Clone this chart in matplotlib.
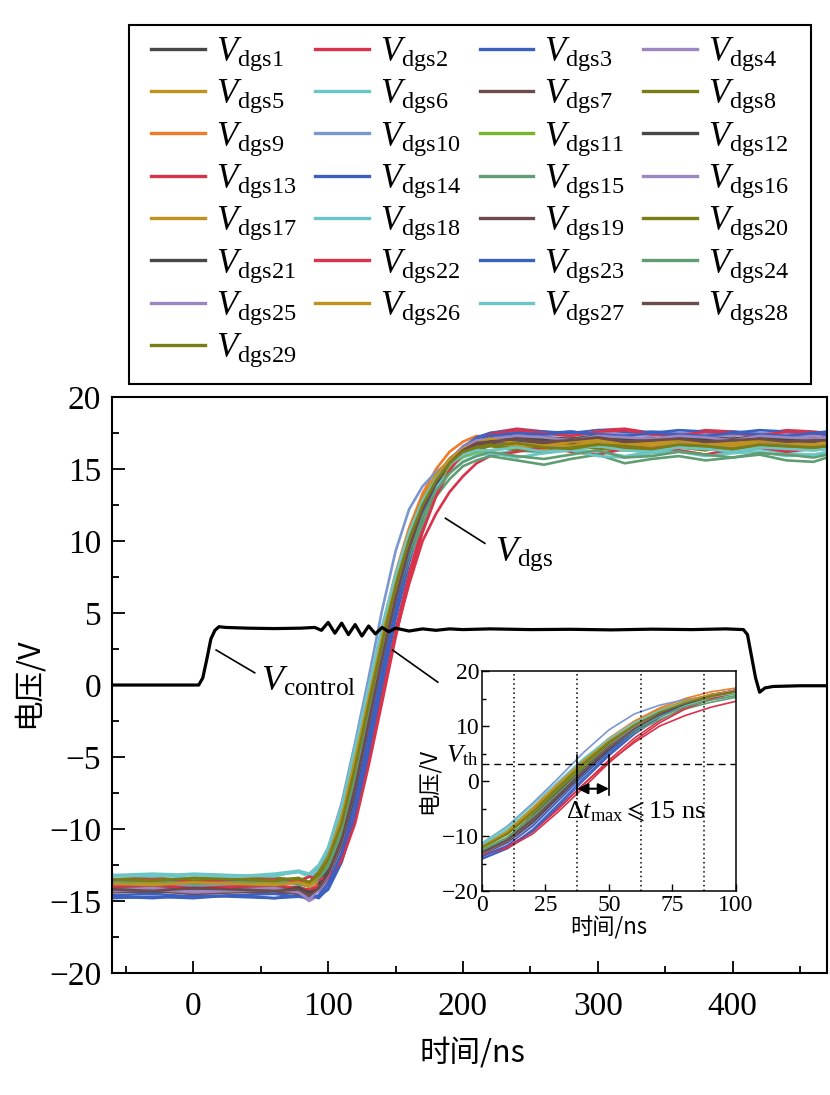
import numpy as np
import matplotlib
matplotlib.use('agg')
import matplotlib.pyplot as plt
from matplotlib.ticker import MultipleLocator
from matplotlib.patches import Rectangle

plt.rcParams['font.family'] = ['Liberation Serif', 'DejaVu Sans']
plt.rcParams['mathtext.fontset'] = 'custom'
plt.rcParams['mathtext.rm'] = 'Liberation Serif'
plt.rcParams['mathtext.it'] = 'Liberation Serif:italic'
plt.rcParams['mathtext.fallback'] = 'stix'
cjk = ['Noto Sans CJK SC', 'DejaVu Sans']

# ---------------- data ----------------
# shared time axis (ns) of the 29 Vdgs traces
t_dgs = [-60, -30, 0, 30, 60, 78, 86, 93,
         100, 110, 120, 130, 140, 150, 160, 170, 180, 190, 200, 210,
         220, 240, 260, 280, 300, 320, 340, 360, 380, 400, 420, 440, 460, 470]

vdgs1 = [-14.0, -14.1, -13.9, -14.0, -14.1, -14.0, -14.3, -13.7,
         -12.8, -10.3, -6.5, -2.0, 2.5, 6.5, 10.0, 12.5, 14.4, 15.7, 16.5, 16.9,
         17.0, 17.2, 17.1, 17.0, 17.2, 17.1, 17.0, 17.2, 17.1, 17.0, 17.2, 17.1, 17.0, 17.1]
vdgs2 = [-13.5, -13.4, -13.6, -13.5, -13.4, -13.6, -13.3, -13.5,
         -13.3, -11.9, -9.2, -5.1, -0.6, 3.8, 7.8, 11.0, 13.4, 15.1, 16.3, 17.1,
         17.5, 17.8, 17.6, 17.4, 17.7, 17.8, 17.5, 17.4, 17.7, 17.6, 17.4, 17.7, 17.6, 17.5]
vdgs3 = [-14.8, -14.7, -14.8, -14.6, -14.8, -14.7, -14.6, -14.8,
         -14.1, -12.2, -8.8, -4.2, 0.5, 4.9, 8.8, 11.8, 14.0, 15.5, 16.5, 17.2,
         17.4, 17.6, 17.5, 17.6, 17.4, 17.5, 17.6, 17.5, 17.4, 17.6, 17.5, 17.4, 17.5, 17.5]
vdgs4 = [-14.3, -14.2, -14.4, -14.3, -14.2, -14.5, -15.0, -14.6,
         -13.5, -11.2, -7.6, -3.1, 1.5, 5.7, 9.4, 12.1, 14.2, 15.6, 16.5, 17.0,
         17.2, 17.4, 17.3, 17.5, 17.2, 17.3, 17.5, 17.3, 17.2, 17.4, 17.3, 17.2, 17.4, 17.3]
vdgs5 = [-13.8, -13.7, -13.9, -13.8, -13.7, -13.8, -14.0, -13.3,
         -12.2, -9.5, -5.6, -1.2, 3.1, 7.0, 10.2, 12.5, 14.2, 15.4, 16.1, 16.5,
         16.9, 16.6, 16.4, 16.7, 16.8, 16.5, 16.4, 16.7, 16.6, 16.5, 16.8, 16.6, 16.5, 16.6]
vdgs6 = [-13.2, -13.1, -13.2, -13.3, -13.1, -12.9, -13.2, -12.7,
         -11.5, -8.8, -4.8, -0.6, 3.6, 7.2, 10.2, 12.4, 14.0, 15.1, 15.8, 16.1,
         16.0, 16.3, 16.1, 16.4, 16.2, 15.9, 16.2, 16.3, 16.0, 16.2, 16.4, 16.1, 16.0, 16.2]
vdgs7 = [-14.3, -14.4, -14.2, -14.3, -14.5, -14.3, -14.6, -14.0,
         -12.9, -10.3, -6.3, -1.8, 2.7, 6.7, 10.1, 12.6, 14.4, 15.7, 16.4, 16.8,
         16.9, 17.1, 17.0, 16.8, 17.1, 17.0, 16.9, 17.1, 17.0, 16.9, 17.1, 17.0, 16.9, 17.0]
vdgs8 = [-13.6, -13.5, -13.7, -13.6, -13.5, -13.6, -13.9, -13.3,
         -12.2, -9.7, -5.9, -1.5, 2.7, 6.6, 9.9, 12.3, 14.0, 15.2, 16.0, 16.3,
         16.6, 16.3, 16.5, 16.7, 16.4, 16.3, 16.6, 16.5, 16.3, 16.6, 16.5, 16.3, 16.6, 16.5]
vdgs9 = [-14.3, -14.2, -14.4, -14.3, -14.2, -14.4, -14.5, -13.5,
         -12.3, -9.2, -4.9, -0.4, 3.9, 7.8, 10.9, 13.3, 15.0, 16.2, 16.9, 17.3,
         17.2, 16.8, 16.6, 16.9, 17.0, 16.7, 16.8, 17.0, 16.8, 16.7, 17.0, 16.9, 16.8, 16.9]
vdgs10 = [-13.9, -13.8, -14.0, -13.9, -13.8, -13.7, -13.9, -12.6,
          -11.3, -8.2, -4.0, 0.5, 5.2, 9.3, 12.2, 13.8, 14.8, 15.5, 16.1, 16.5,
          16.7, 16.9, 16.6, 16.5, 16.8, 16.7, 16.5, 16.8, 16.7, 16.6, 16.9, 16.7, 16.6, 16.7]
vdgs11 = [-13.5, -13.6, -13.4, -13.5, -13.6, -13.4, -13.7, -13.2,
          -12.1, -9.6, -5.8, -1.5, 2.7, 6.6, 9.8, 12.2, 13.9, 15.1, 15.9, 16.2,
          16.3, 16.5, 16.2, 16.4, 16.6, 16.3, 16.2, 16.5, 16.4, 16.2, 16.5, 16.4, 16.3, 16.4]
vdgs12 = [-14.1, -14.0, -14.2, -14.1, -14.0, -14.2, -14.4, -14.0,
          -13.0, -10.7, -7.0, -2.5, 2.0, 6.2, 9.7, 12.4, 14.3, 15.6, 16.5, 17.0,
          17.1, 17.3, 17.2, 17.1, 17.3, 17.2, 17.1, 17.3, 17.2, 17.1, 17.3, 17.2, 17.1, 17.2]
vdgs13 = [-14.0, -13.9, -14.1, -14.0, -13.9, -14.1, -14.2, -14.0,
          -13.6, -12.0, -9.1, -4.9, -0.6, 3.5, 7.0, 10.0, 11.9, 13.4, 14.5, 15.4,
          15.9, 16.2, 16.5, 16.2, 16.0, 16.4, 16.6, 16.3, 16.0, 16.4, 16.5, 16.2, 16.4, 16.5]
vdgs14 = [-14.7, -14.8, -14.6, -14.7, -14.8, -14.6, -14.7, -14.7,
          -14.2, -12.3, -9.1, -4.6, 0.1, 4.6, 8.5, 11.6, 13.9, 15.5, 16.5, 17.2,
          17.5, 17.7, 17.6, 17.5, 17.7, 17.6, 17.5, 17.7, 17.6, 17.5, 17.7, 17.6, 17.5, 17.6]
vdgs15 = [-13.6, -13.7, -13.5, -13.6, -13.7, -13.5, -13.8, -13.5,
          -12.6, -10.4, -6.9, -2.7, 1.5, 5.5, 8.8, 11.2, 13.1, 14.3, 15.2, 15.6,
          15.9, 15.6, 15.3, 15.7, 16.0, 15.4, 15.7, 15.9, 15.6, 15.8, 16.0, 15.6, 15.5, 15.8]
vdgs16 = [-14.2, -14.1, -14.3, -14.2, -14.1, -14.3, -14.7, -14.3,
          -13.4, -11.3, -7.9, -3.4, 1.2, 5.5, 9.2, 12.0, 14.2, 15.6, 16.6, 17.1,
          17.3, 17.5, 17.4, 17.3, 17.6, 17.4, 17.3, 17.5, 17.4, 17.3, 17.5, 17.4, 17.3, 17.4]
vdgs17 = [-13.7, -13.8, -13.6, -13.7, -13.8, -13.6, -13.9, -13.1,
          -11.9, -9.1, -5.0, -0.6, 3.7, 7.5, 10.6, 12.9, 14.5, 15.6, 16.3, 16.6,
          16.9, 17.1, 16.7, 16.6, 16.9, 16.8, 16.6, 16.9, 16.8, 16.6, 16.9, 16.8, 16.7, 16.8]
vdgs18 = [-13.3, -13.2, -13.4, -13.3, -13.2, -13.0, -13.3, -12.8,
          -11.8, -9.2, -5.4, -1.1, 3.0, 6.7, 9.8, 12.1, 13.7, 14.8, 15.5, 15.9,
          16.1, 15.8, 16.1, 16.3, 15.9, 15.8, 16.1, 16.2, 15.9, 16.1, 16.2, 15.9, 16.0, 16.1]
vdgs19 = [-14.4, -14.3, -14.5, -14.4, -14.3, -14.5, -14.8, -14.1,
          -13.2, -10.7, -6.8, -2.3, 2.2, 6.3, 9.7, 12.3, 14.2, 15.5, 16.3, 16.7,
          16.8, 17.0, 16.8, 16.9, 17.1, 16.8, 16.9, 17.0, 16.8, 16.9, 17.0, 16.8, 16.9, 16.9]
vdgs20 = [-13.5, -13.4, -13.6, -13.5, -13.4, -13.5, -13.7, -13.0,
          -11.9, -9.3, -5.3, -1.0, 3.3, 7.1, 10.2, 12.6, 14.2, 15.4, 16.1, 16.5,
          16.7, 16.4, 16.2, 16.5, 16.7, 16.4, 16.3, 16.6, 16.5, 16.3, 16.6, 16.5, 16.4, 16.5]
vdgs21 = [-14.2, -14.3, -14.1, -14.2, -14.3, -14.1, -14.4, -14.2,
          -13.3, -11.1, -7.5, -3.0, 1.5, 5.7, 9.3, 12.0, 14.0, 15.4, 16.3, 16.8,
          17.0, 17.2, 17.0, 17.1, 17.3, 17.0, 17.1, 17.2, 17.0, 17.1, 17.2, 17.0, 17.1, 17.1]
vdgs22 = [-13.6, -13.5, -13.7, -13.6, -13.5, -13.7, -13.3, -13.5,
          -13.4, -12.2, -9.6, -5.6, -1.2, 3.3, 7.3, 10.6, 13.1, 14.9, 16.1, 16.9,
          17.4, 17.7, 17.5, 17.3, 17.6, 17.7, 17.4, 17.3, 17.6, 17.5, 17.3, 17.6, 17.5, 17.4]
vdgs23 = [-14.6, -14.5, -14.7, -14.6, -14.5, -14.7, -14.8, -14.6,
          -13.8, -11.7, -8.2, -3.6, 1.0, 5.3, 9.1, 12.0, 14.1, 15.6, 16.5, 17.1,
          17.3, 17.5, 17.4, 17.6, 17.4, 17.3, 17.5, 17.4, 17.3, 17.5, 17.4, 17.3, 17.5, 17.4]
vdgs24 = [-13.7, -13.6, -13.8, -13.7, -13.6, -13.8, -14.0, -13.4,
          -12.5, -10.2, -6.5, -2.2, 2.1, 6.0, 9.3, 11.7, 13.5, 14.7, 15.5, 15.9,
          16.2, 15.9, 15.7, 16.0, 16.3, 15.8, 15.9, 16.2, 16.0, 15.8, 16.1, 16.0, 15.8, 16.0]
vdgs25 = [-14.3, -14.2, -14.4, -14.3, -14.2, -14.4, -14.9, -14.2,
          -13.2, -10.9, -7.1, -2.6, 1.9, 6.1, 9.7, 12.3, 14.3, 15.6, 16.5, 17.0,
          17.1, 17.3, 17.2, 17.0, 17.3, 17.2, 17.1, 17.3, 17.2, 17.0, 17.3, 17.2, 17.1, 17.2]
vdgs26 = [-13.8, -13.9, -13.7, -13.8, -13.9, -13.7, -14.0, -13.2,
          -12.0, -9.2, -5.1, -0.6, 3.7, 7.5, 10.6, 13.0, 14.6, 15.7, 16.4, 16.8,
          17.1, 16.8, 16.6, 16.9, 17.0, 16.7, 16.8, 17.0, 16.7, 16.8, 17.0, 16.8, 16.7, 16.9]
vdgs27 = [-13.2, -13.3, -13.1, -13.2, -13.3, -12.9, -13.1, -12.5,
          -11.3, -8.4, -4.3, -0.1, 4.1, 7.7, 10.6, 12.8, 14.3, 15.3, 16.0, 16.3,
          16.3, 16.5, 16.2, 16.4, 16.6, 16.3, 16.2, 16.5, 16.4, 16.2, 16.5, 16.4, 16.3, 16.4]
vdgs28 = [-14.2, -14.3, -14.1, -14.2, -14.3, -14.2, -14.6, -14.1,
          -13.1, -10.8, -7.1, -2.6, 1.9, 6.0, 9.5, 12.2, 14.1, 15.4, 16.3, 16.8,
          16.9, 17.1, 16.9, 17.0, 17.2, 16.9, 17.0, 17.1, 16.9, 17.0, 17.1, 16.9, 17.0, 17.0]
vdgs29 = [-13.5, -13.6, -13.4, -13.5, -13.6, -13.4, -13.7, -13.2,
          -12.1, -9.6, -5.7, -1.4, 2.9, 6.8, 10.1, 12.5, 14.2, 15.4, 16.2, 16.5,
          16.6, 16.8, 16.5, 16.4, 16.7, 16.6, 16.4, 16.7, 16.6, 16.4, 16.7, 16.6, 16.5, 16.6]

# control signal
t_ctrl = [-60, 4, 7, 10, 13, 16, 19, 24, 40, 60, 80, 90, 95, 100, 105, 110, 115, 120,
          125, 130, 135, 140, 145, 150, 160, 170, 180, 190, 200, 220, 250, 280, 310,
          340, 370, 395, 408, 411, 414, 417, 420, 424, 430, 450, 470]
v_ctrl = [0, 0, 0.5, 1.8, 3.2, 3.8, 4.05, 4.0, 3.95, 3.92, 3.95, 4.0, 3.8, 4.35, 3.6,
          4.3, 3.5, 4.2, 3.4, 4.1, 3.55, 4.0, 3.7, 3.95, 3.75, 3.9, 3.8, 3.9, 3.85,
          3.9, 3.85, 3.87, 3.83, 3.88, 3.85, 3.9, 3.85, 3.5, 2.0, 0.5, -0.5, -0.2,
          -0.1, -0.05, -0.05]

c_gray, c_red, c_blue, c_purple = '#474747', '#d8334b', '#3b60bf', '#9c87c3'
c_gold, c_teal, c_brown, c_olive = '#c0921e', '#6cc5c6', '#6c4b4b', '#7c7c16'
c_orange, c_lblue, c_green, c_sea = '#f07a2a', '#7b97d0', '#7ab42a', '#5f9e73'
colors = [c_gray, c_red, c_blue, c_purple, c_gold, c_teal, c_brown, c_olive,
          c_orange, c_lblue, c_green, c_gray, c_red, c_blue, c_sea, c_purple,
          c_gold, c_teal, c_brown, c_olive, c_gray, c_red, c_blue, c_sea,
          c_purple, c_gold, c_teal, c_brown, c_olive]

curves = [vdgs1, vdgs2, vdgs3, vdgs4, vdgs5, vdgs6, vdgs7, vdgs8, vdgs9, vdgs10,
          vdgs11, vdgs12, vdgs13, vdgs14, vdgs15, vdgs16, vdgs17, vdgs18, vdgs19, vdgs20,
          vdgs21, vdgs22, vdgs23, vdgs24, vdgs25, vdgs26, vdgs27, vdgs28, vdgs29]
labels = [r'$V_{\mathrm{dgs%d}}$' % (i + 1) for i in range(len(curves))]

vth = 3.15
inset_offset = 100  # inset time axis starts at 100 ns of the main trace

# ---------------- figure ----------------
fig = plt.figure(figsize=(8.3, 10.95), dpi=100)
ax = fig.add_axes([0.1355, 0.1114, 0.8609, 0.526])

handles = []
t_arr = np.array(t_dgs)
for v, c, lab in zip(curves, colors, labels):
    h, = ax.plot(t_arr, v, color=c, lw=1.9, label=lab)
    handles.append(h)
ax.plot(t_ctrl, v_ctrl, color='black', lw=2.3)

ax.set_xlim(-60, 470)
ax.set_ylim(-20, 20)
ax.xaxis.set_major_locator(MultipleLocator(100))
ax.xaxis.set_minor_locator(MultipleLocator(50))
ax.yaxis.set_major_locator(MultipleLocator(5))
ax.yaxis.set_minor_locator(MultipleLocator(2.5))
ax.tick_params(which='both', direction='in', top=False, right=False, labelsize=24)
ax.tick_params(which='major', length=9, width=1.3)
ax.tick_params(which='minor', length=5, width=1.3)
ax.tick_params(axis='x', pad=13)
ax.tick_params(axis='y', pad=8)
for s in ax.spines.values():
    s.set_linewidth(1.5)

fig.text(472 / 830, 1 - 1053 / 1095, '时间/ns', family=cjk, fontsize=22,
         ha='center', va='center')
fig.text(28 / 830, 1 - 683 / 1095, '电压/V', family=cjk, fontsize=22,
         ha='center', va='center', rotation=90)

# annotations
ax.plot([16.9, 45.5], [2.43, 0.85], color='black', lw=1.2)
ax.text(50, 0.2, r'$V_{\mathrm{control}}$', fontsize=26, ha='left', va='center')
ax.plot([187, 216.2], [11.58, 9.84], color='black', lw=1.2)
ax.text(224, 9.1, r'$V_{\mathrm{dgs}}$', fontsize=26, ha='left', va='center')
ax.plot([147.8, 181.3], [2.43, 0.2], color='black', lw=1.2)

# legend box drawn separately so the columns can sit inside it like the original
fig.patches.append(Rectangle((0.1554, 0.6493), 0.8217, 0.3279, transform=fig.transFigure,
                             fill=False, edgecolor='black', lw=1.5))
order = list(range(0, 29, 4)) + list(range(1, 29, 4)) + list(range(2, 29, 4)) + list(range(3, 29, 4))
leg = fig.legend([handles[i] for i in order], [labels[i] for i in order],
                 loc='upper left', bbox_to_anchor=(141 / 830, 0.6493, 658 / 830, 0.3279),
                 mode='expand', ncol=4, fontsize=25, frameon=False,
                 borderaxespad=0, handlelength=1.55,
                 handletextpad=0.3, labelspacing=0.14, borderpad=0.3)
for lh in leg.get_lines():
    lh.set_linewidth(2.4)

# ---------------- inset ----------------
axi = fig.add_axes([0.5807, 0.1863, 0.306, 0.2009])
for v, c in zip(curves, colors):
    axi.plot(t_arr - inset_offset, v, color=c, lw=1.2)
axi.set_xlim(0, 100)
axi.set_ylim(-20, 20)
for xv in [12.5, 37.5, 62.5, 87.5]:
    axi.axvline(xv, color='black', ls=(0, (1, 2)), lw=1.1)
axi.axhline(vth, color='black', ls=(0, (5, 3.5)), lw=1.0)
axi.plot([37.5, 37.5], [-2.6, 4.8], color='black', lw=1.2)
axi.plot([50, 50], [-2.6, 4.8], color='black', lw=1.2)
axi.annotate('', xy=(37.5, -1.4), xytext=(50, -1.4),
             arrowprops=dict(arrowstyle='<|-|>', color='black', lw=1.5,
                             mutation_scale=16, shrinkA=0, shrinkB=0))
axi.text(60.5, -5.6, r'$\Delta t_{\mathrm{max}}\leqslant$15 ns', fontsize=19,
         ha='center', va='center')
axi.text(-1.5, 4.6, r'$V_{\mathrm{th}}$', fontsize=19, ha='right', va='center',
         clip_on=False)
axi.xaxis.set_major_locator(MultipleLocator(25))
axi.yaxis.set_major_locator(MultipleLocator(10))
axi.yaxis.set_minor_locator(MultipleLocator(5))
axi.tick_params(which='both', direction='in', top=False, right=False, labelsize=17)
axi.tick_params(which='major', length=5, width=1.0)
axi.tick_params(which='minor', length=3, width=1.0)
axi.tick_params(axis='x', pad=3)
axi.tick_params(axis='y', pad=2)
for s in axi.spines.values():
    s.set_linewidth(1.1)
axi.set_xlabel('时间/ns', family=cjk, fontsize=16, labelpad=0)
axi.set_ylabel('电压/V', family=cjk, fontsize=16, labelpad=2)

fig.savefig('out.png', dpi=100)
